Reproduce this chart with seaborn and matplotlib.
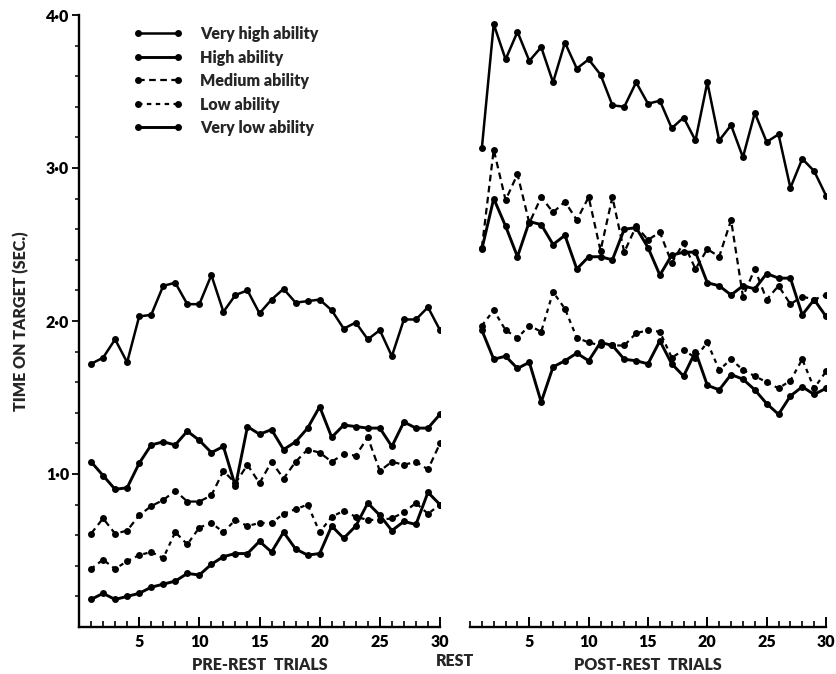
import numpy as np
import pandas as pd
import matplotlib
matplotlib.use('Agg')
import matplotlib.pyplot as plt
import seaborn as sns
from matplotlib.ticker import FixedLocator, FuncFormatter


# trials 1..30 before and after the rest
trials = np.arange(1, 31)
groups = ['Very high ability', 'High ability', 'Medium ability', 'Low ability', 'Very low ability']

pre_very_high = [1.72, 1.76, 1.88, 1.73, 2.03, 2.04, 2.23, 2.25, 2.11, 2.11,
                 2.30, 2.06, 2.17, 2.20, 2.05, 2.14, 2.21, 2.12, 2.13, 2.14,
                 2.07, 1.95, 1.99, 1.88, 1.94, 1.77, 2.01, 2.01, 2.09, 1.94]
pre_high = [1.08, 0.99, 0.90, 0.91, 1.07, 1.19, 1.21, 1.19, 1.28, 1.22,
            1.14, 1.18, 0.92, 1.31, 1.26, 1.29, 1.16, 1.21, 1.30, 1.44,
            1.24, 1.32, 1.31, 1.30, 1.30, 1.18, 1.34, 1.30, 1.30, 1.39]
pre_medium = [0.61, 0.71, 0.61, 0.63, 0.73, 0.79, 0.83, 0.89, 0.82, 0.82,
              0.86, 1.02, 0.94, 1.06, 0.94, 1.08, 0.97, 1.08, 1.16, 1.14,
              1.08, 1.13, 1.12, 1.24, 1.02, 1.08, 1.06, 1.08, 1.03, 1.20]
pre_low = [0.38, 0.44, 0.38, 0.43, 0.47, 0.49, 0.45, 0.62, 0.54, 0.65,
           0.68, 0.62, 0.70, 0.66, 0.68, 0.68, 0.74, 0.77, 0.80, 0.62,
           0.72, 0.76, 0.72, 0.70, 0.70, 0.71, 0.75, 0.81, 0.74, 0.80]
pre_very_low = [0.18, 0.22, 0.18, 0.20, 0.22, 0.26, 0.28, 0.30, 0.35, 0.34,
                0.41, 0.46, 0.48, 0.48, 0.56, 0.49, 0.62, 0.51, 0.47, 0.48,
                0.66, 0.58, 0.66, 0.81, 0.73, 0.63, 0.69, 0.67, 0.88, 0.80]

post_very_high = [3.13, 3.94, 3.71, 3.89, 3.70, 3.79, 3.56, 3.82, 3.65, 3.71,
                  3.61, 3.41, 3.40, 3.56, 3.42, 3.44, 3.26, 3.33, 3.18, 3.56,
                  3.18, 3.28, 3.07, 3.36, 3.17, 3.22, 2.87, 3.06, 2.98, 2.82]
post_high = [2.47, 2.80, 2.62, 2.42, 2.65, 2.63, 2.50, 2.56, 2.34, 2.42,
             2.42, 2.40, 2.60, 2.61, 2.48, 2.30, 2.43, 2.45, 2.45, 2.25,
             2.23, 2.17, 2.23, 2.21, 2.31, 2.28, 2.28, 2.04, 2.14, 2.03]
post_medium = [2.48, 3.12, 2.79, 2.96, 2.64, 2.81, 2.71, 2.78, 2.66, 2.81,
               2.46, 2.81, 2.45, 2.62, 2.53, 2.58, 2.38, 2.51, 2.34, 2.47,
               2.42, 2.66, 2.16, 2.34, 2.14, 2.23, 2.11, 2.16, 2.14, 2.17]
post_low = [1.97, 2.07, 1.94, 1.89, 1.97, 1.93, 2.19, 2.08, 1.89, 1.86,
            1.84, 1.84, 1.84, 1.92, 1.94, 1.93, 1.76, 1.81, 1.76, 1.86,
            1.68, 1.75, 1.68, 1.64, 1.60, 1.56, 1.61, 1.75, 1.56, 1.67]
post_very_low = [1.94, 1.75, 1.77, 1.69, 1.73, 1.47, 1.70, 1.74, 1.79, 1.74,
                 1.86, 1.84, 1.75, 1.74, 1.72, 1.87, 1.72, 1.64, 1.80, 1.58,
                 1.55, 1.65, 1.62, 1.55, 1.46, 1.39, 1.51, 1.57, 1.52, 1.56]

pre_data = [pre_very_high, pre_high, pre_medium, pre_low, pre_very_low]
post_data = [post_very_high, post_high, post_medium, post_low, post_very_low]

line_styles = ['-', '-', (0, (3, 2)), (0, (2, 2)), '-']
line_widths = [1.8, 2.1, 1.6, 1.6, 2.1]


sns.set_style('ticks')
plt.rcParams['font.family'] = ['Lato', 'DejaVu Sans']
plt.rcParams['font.weight'] = 'heavy'

fig = plt.figure(figsize=(8.36, 6.74), dpi=100)
W, H = 836, 674
ax1 = fig.add_axes([79 / W, 47 / H, 361 / W, 612 / H])
ax2 = fig.add_axes([470 / W, 47 / H, 356 / W, 612 / H])


def draw_panel(ax, series):
    for vals, name, ls, lw in zip(series, groups, line_styles, line_widths):
        df = pd.DataFrame({'trial': trials, 'time': vals})
        sns.lineplot(data=df, x='trial', y='time', ax=ax, color='black',
                     linestyle=ls, linewidth=lw, marker='o', markersize=5,
                     markeredgewidth=0, label=name, legend=False)
    ax.set_xlim(0, 30)
    ax.set_ylim(0, 4.0)
    ax.set_xlabel('')
    ax.set_ylabel('')
    ax.xaxis.set_major_locator(FixedLocator([5, 10, 15, 20, 25, 30]))
    ax.xaxis.set_minor_locator(FixedLocator(np.arange(0, 31)))
    ax.tick_params(axis='x', which='major', direction='in', length=7, width=1.4,
                   labelsize=11.5, pad=5, colors='black', bottom=True)
    ax.tick_params(axis='x', which='minor', direction='in', length=4, width=1.2,
                   bottom=True, colors='black')
    for s in ['top', 'right']:
        ax.spines[s].set_visible(False)
    ax.spines['bottom'].set_linewidth(1.7)
    ax.spines['bottom'].set_color('black')


draw_panel(ax1, pre_data)
draw_panel(ax2, post_data)

# y axis only on the pre-rest panel
ax1.yaxis.set_major_locator(FixedLocator([1.0, 2.0, 3.0, 4.0]))
ax1.yaxis.set_minor_locator(FixedLocator(np.arange(0.2, 4.0, 0.2)))
ax1.yaxis.set_major_formatter(FuncFormatter(lambda v, p: f'{v:.1f}'.replace('.', '\u00b7')))
ax1.tick_params(axis='y', which='major', direction='out', length=5, width=1.3,
                labelsize=11.5, pad=2, left=True, colors='black')
ax1.tick_params(axis='y', which='minor', direction='out', length=3, width=1.1,
                left=True, colors='black')
ax1.spines['left'].set_linewidth(1.7)
ax1.spines['left'].set_color('black')

ax2.spines['left'].set_visible(False)
ax2.tick_params(axis='y', which='both', left=False, labelleft=False)

ax1.set_xlabel('PRE-REST  TRIALS', fontsize=11.5, fontweight='heavy', labelpad=5)
ax2.set_xlabel('POST-REST  TRIALS', fontsize=11.5, fontweight='heavy', labelpad=5)
ax1.set_ylabel('TIME ON TARGET (SEC.)', fontsize=11.5, fontweight='heavy', labelpad=12)
fig.text(455 / W, 1 - 661 / H, 'REST', fontsize=11.5, fontweight='heavy',
         ha='center', va='center')

handles, labels = ax1.get_legend_handles_labels()
ax1.legend(handles, labels, loc='upper left', bbox_to_anchor=(0.15, 0.982),
           frameon=False, fontsize=11.5, handlelength=3.1, handletextpad=1.1,
           labelspacing=0.47, numpoints=2, borderaxespad=0, borderpad=0)

plt.savefig('out.png', dpi=100)
